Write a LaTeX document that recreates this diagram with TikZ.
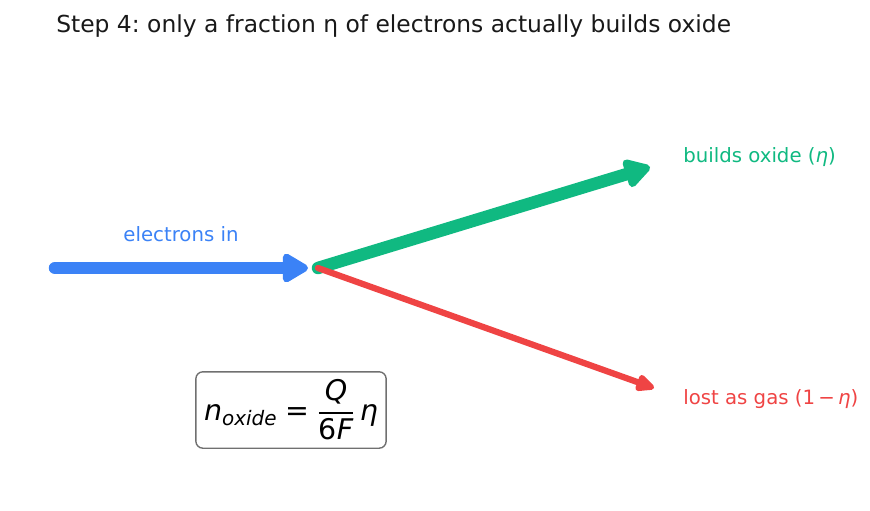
\documentclass[tikz,border=0pt]{standalone}
\usepackage{amsmath}
\usepackage{fontspec}
\setmainfont{DejaVu Sans}
\usetikzlibrary{arrows.meta}
\definecolor{ein}{HTML}{3B82F6}
\definecolor{oxid}{HTML}{10B981}
\definecolor{gas}{HTML}{EF4444}
\definecolor{boxedge}{HTML}{707070}
\tikzset{
  flow/.style={line cap=round,line join=round},
  lbl/.style={font=\fontsize{14.2}{17}\selectfont,inner sep=0pt},
}
\frenchspacing

\begin{document}
\begin{tikzpicture}[x=0.72pt,y=-0.72pt]
\useasboundingbox (0,0) rectangle (870,510);
%title
\node[anchor=west,inner sep=0pt,text=black!90,font=\fontsize{16.85}{20}\selectfont] (title) at (56,26) {Step 4: only a fraction η of electrons actually builds oxide};
%points
\coordinate (start) at (55,268);
\coordinate (hubin) at (308,268);
\coordinate (hub) at (318,268);
\coordinate (oxtip) at (650,167);
\coordinate (gastip) at (654,388);
%electrons in
\draw[flow,ein,line width=9pt,-{Triangle[length=21pt,width=23pt,round]}] (start) -- (hubin);
\node[lbl,text=ein] (inlbl) at (181,234) {electrons in};
%oxide branch
\draw[flow,oxid,line width=9pt,-{Triangle[length=21pt,width=23pt,round]}] (hub) -- (oxtip);
\node[lbl,text=oxid,anchor=west] (oxlbl) at (683,157) {builds oxide ({\itshape η})};
%gas branch
\draw[flow,gas,line width=4.5pt,-{Triangle[length=16pt,width=13pt,round]}] (hub) -- (gastip);
\node[lbl,text=gas,anchor=west] (gaslbl) at (683,399) {lost as gas (1\,−\,{\itshape η})};
%formula
\node[draw=boxedge,line width=1pt,rounded corners=5pt,minimum width=137pt,minimum height=55pt,inner sep=2pt,font=\fontsize{20.5}{24}\selectfont] (eq) at (291,410)
  {$\text{\itshape n}_{\text{\itshape oxide}}\mathrel{\text{=}}\dfrac{\text{\itshape Q}}{\text{6\itshape F}}\,\text{\itshape η}$};
\end{tikzpicture}
\end{document}
